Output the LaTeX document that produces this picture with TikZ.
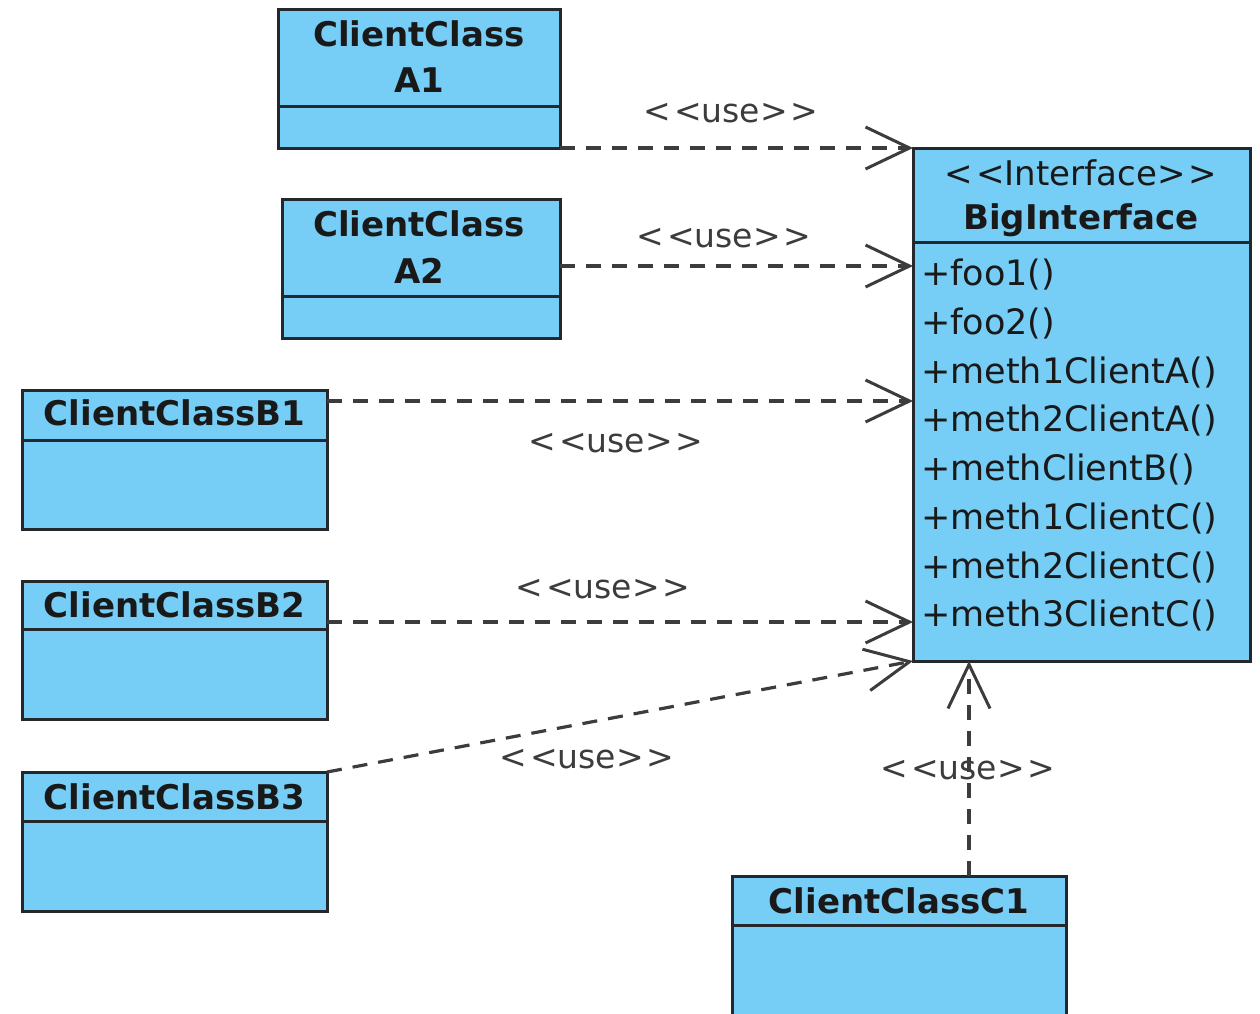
\documentclass[tikz,border=0pt]{standalone}
\usepackage{fontspec}
\setmainfont{DejaVu Sans}
\usetikzlibrary{arrows.meta}
\definecolor{classfill}{RGB}{118,205,245}
\definecolor{edge}{RGB}{35,40,45}
\definecolor{linec}{RGB}{60,60,60}
\newcommand{\stereo}[1]{<\hspace{3pt}<#1>\hspace{3pt}>}
\tikzset{
  classbox/.style={draw=edge, fill=classfill, line width=3pt, rectangle, inner sep=0pt, outer sep=0pt, anchor=north west},
  divider/.style={draw=edge, line width=3pt},
  ttl/.style={font=\fontsize{34}{36}\selectfont\bfseries, text=black!90, inner sep=0pt},
  meth/.style={font=\fontsize{35}{36}\selectfont, text=black!90, inner sep=0pt, anchor=west},
  lbl/.style={font=\fontsize{33}{36}\selectfont, text=linec, inner sep=0pt},
  dep/.style={draw=linec, line width=3.2pt, dash pattern=on 15pt off 11pt, -{Straight Barb[length=44pt,width=42pt,line width=3pt]}}
}
\begin{document}
\begin{tikzpicture}[x=1pt,y=-1pt]
\useasboundingbox (0,0) rectangle (1260,1013);
\clip (0,0) rectangle (1260,1013);
% class boxes
\node[classbox, minimum width=282pt, minimum height=139pt] (a1) at (278,9) {};
\draw[divider] (278,106) -- (560,106);
\node[ttl] (a1t1) at (419,34) {ClientClass};
\node[ttl] (a1t2) at (419,80) {A1};

\node[classbox, minimum width=278pt, minimum height=139pt] (a2) at (282,199) {};
\draw[divider] (282,296) -- (560,296);
\node[ttl] (a2t1) at (419,224) {ClientClass};
\node[ttl] (a2t2) at (419,271) {A2};

\node[classbox, minimum width=305pt, minimum height=139pt] (b1) at (22,390) {};
\draw[divider] (22,440) -- (327,440);
\node[ttl] (b1t) at (174.5,413) {ClientClassB1};

\node[classbox, minimum width=305pt, minimum height=138pt] (b2) at (22,581) {};
\draw[divider] (22,629) -- (327,629);
\node[ttl] (b2t) at (174.5,605) {ClientClassB2};

\node[classbox, minimum width=305pt, minimum height=139pt] (b3) at (22,772) {};
\draw[divider] (22,821) -- (327,821);
\node[ttl] (b3t) at (174.5,797) {ClientClassB3};

\node[classbox, minimum width=334pt, minimum height=150pt] (c1) at (732,876) {};
\draw[divider] (732,925) -- (1066,925);
\node[ttl] (c1t) at (899,901) {ClientClassC1};

\node[classbox, minimum width=337pt, minimum height=513pt] (big) at (913,148) {};
\draw[divider] (913,242) -- (1250,242);
\node[lbl, text=black!90, font=\fontsize{34}{36}\selectfont] (bigs) at (1081,173) {\stereo{Interface}};
\node[ttl] (bigt) at (1081,220) {BigInterface};
\node[meth] (m1) at (921,275) {+foo1()};
\node[meth] (m2) at (921,324) {+foo2()};
\node[meth] (m3) at (921,373) {+meth1ClientA()};
\node[meth] (m4) at (921,421) {+meth2ClientA()};
\node[meth] (m5) at (921,469) {+methClientB()};
\node[meth] (m6) at (921,518) {+meth1ClientC()};
\node[meth] (m7) at (921,567) {+meth2ClientC()};
\node[meth] (m8) at (921,615) {+meth3ClientC()};

% connector anchor points
\coordinate (a2p) at (560,266);
\coordinate (b1p) at (327,401);
\coordinate (b2p) at (327,622);
\coordinate (c1p) at (969,876);

\draw[dep] (a1.south east) -- (a1.south east -| big.west);
\draw[dep] (a2p) -- (a2p -| big.west);
\draw[dep] (b1p) -- (b1p -| big.west);
\draw[dep] (b2p) -- (b2p -| big.west);
\draw[dep] (b3.north east) -- (big.south west);
\draw[dep] (c1p) -- (c1p |- big.south);

% labels
\node[lbl] (l1) at (731,113) {\stereo{use}};
\node[lbl] (l2) at (724,238) {\stereo{use}};
\node[lbl] (l3) at (616,443) {\stereo{use}};
\node[lbl] (l4) at (603,589) {\stereo{use}};
\node[lbl] (l5) at (587,759) {\stereo{use}};
\node[lbl] (l6) at (968,770) {\stereo{use}};
\end{tikzpicture}
\end{document}
